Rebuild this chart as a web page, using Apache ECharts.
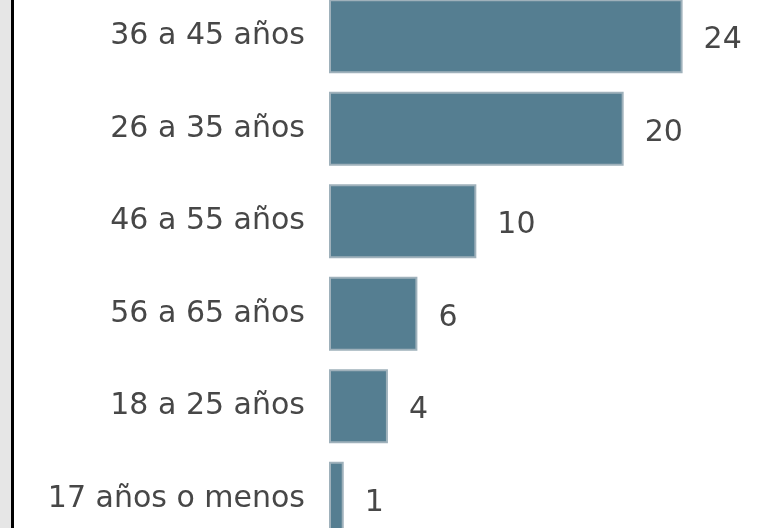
<!DOCTYPE html>
<html>
<head>
    <meta charset="utf-8">
    <title>Edades</title>
    <script src="https://cdn.jsdelivr.net/npm/echarts@6/dist/echarts.min.js"></script>
    <style>
        html, body { margin: 0; padding: 0; background: #fff; overflow: hidden; }
        #strip { position: absolute; left: 0; top: 0; width: 11px; height: 528px; background: #e6e6e6; border-right: 3px solid #000; }
        /* el grafico sobresale arriba y abajo, como en la captura */
        #chart { position: absolute; left: 0; top: -10px; width: 776px; height: 555px; }
    </style>
</head>
<body>
<div id="chart"></div>
<div id="strip"></div>
<script type="text/javascript">
    // datos
    var categorias = ['36 a 45 años', '26 a 35 años', '46 a 55 años', '56 a 65 años', '18 a 25 años', '17 años o menos'];
    var valores = [24, 20, 10, 6, 4, 1];

    var myChart = echarts.init(document.getElementById('chart'));
    myChart.setOption({
        animation: false,
        grid: {
            left: 329,
            right: 5,
            top: 0,
            bottom: 0
        },
        xAxis: {
            type: 'value',
            min: 0,
            max: 30,
            show: false
        },
        yAxis: {
            type: 'category',
            inverse: true,
            data: categorias,
            axisLine: { show: false },
            axisTick: { show: false },
            axisLabel: {
                margin: 24,
                color: '#474747',
                fontFamily: 'DejaVu Sans',
                fontSize: 30
            }
        },
        series: [
            {
                type: 'bar',
                data: valores,
                barWidth: 74,
                itemStyle: {
                    color: '#557e91',
                    borderColor: '#9fb1bb',
                    borderWidth: 2
                },
                label: {
                    show: true,
                    position: 'right',
                    distance: 21,
                    offset: [0, 4],
                    color: '#474747',
                    fontFamily: 'DejaVu Sans',
                    fontSize: 30
                }
            }
        ]
    });
</script>
</body>
</html>
